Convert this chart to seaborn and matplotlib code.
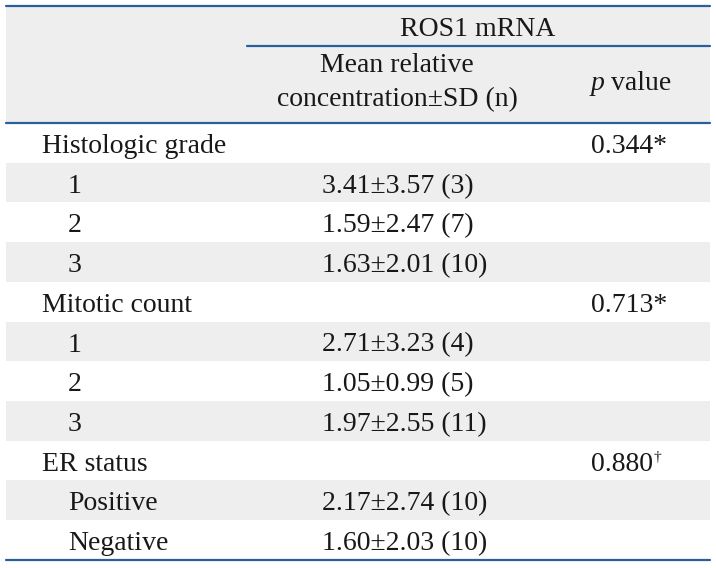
import numpy as np
import pandas as pd
import seaborn as sns
import matplotlib.pyplot as plt

# ---------- data ----------
row_labels = ["Histologic grade", "1", "2", "3",
              "Mitotic count", "1", "2", "3",
              "ER status", "Positive", "Negative"]
is_group = [True, False, False, False,
            True, False, False, False,
            True, False, False]
means = [None, 3.41, 1.59, 1.63, None, 2.71, 1.05, 1.97, None, 2.17, 1.60]
sds = [None, 3.57, 2.47, 2.01, None, 3.23, 0.99, 2.55, None, 2.74, 2.03]
counts = [None, 3, 7, 10, None, 4, 5, 11, None, 10, 10]
p_values = ["0.344", None, None, None, "0.713", None, None, None, "0.880", None, None]
p_marks = ["*", None, None, None, "*", None, None, None, "\u2020", None, None]

header_top = "ROS1 mRNA"
header_col1 = ["Mean relative", "concentration\u00b1SD (n)"]

df = pd.DataFrame({"label": row_labels, "group": is_group, "mean": means,
                   "sd": sds, "n": counts, "p": p_values, "mark": p_marks})

# ---------- style ----------
sns.set_theme(style="white")
plt.rcParams['font.family'] = ['Liberation Serif', 'DejaVu Serif']

W, H = 716, 568
fig = plt.figure(figsize=(W / 100, H / 100), dpi=100)
ax = fig.add_axes([0, 0, 1, 1])
ax.set_xlim(0, W)
ax.set_ylim(H, 0)
ax.axis("off")

line_col = "#2a5f9e"
band_col = "#eeeeee"
txt_col = "#1a1718"
fs = 20

x0, x1 = 6, 710
top_y, head_y = 5.5, 123
row_h = 39.7

# header background + rules
ax.fill_between([x0, x1], top_y, head_y, color=band_col, lw=0)
ax.plot([x0, x1], [top_y, top_y], color=line_col, lw=1.6)
ax.plot([247, x1], [45.5, 45.5], color=line_col, lw=1.6)
ax.plot([x0, x1], [head_y, head_y], color=line_col, lw=1.6)

ax.text(478, 29, header_top, ha="center", va="center", fontsize=fs, color=txt_col)
ax.text(397, 66, header_col1[0], ha="center", va="center", fontsize=fs, color=txt_col)
ax.text(397, 100, header_col1[1], ha="center", va="center", fontsize=fs, color=txt_col)
ax.text(591, 84, "p", ha="left", va="center", fontsize=fs, color=txt_col, style="italic")
ax.text(611, 84, "value", ha="left", va="center", fontsize=fs, color=txt_col)

# body rows
for i, row in df.iterrows():
    top = head_y + i * row_h
    if i % 2 == 1:
        ax.fill_between([x0, x1], top, top + row_h, color=band_col, lw=0)
    base = top + 30
    lx = 42 if row["group"] else 68
    ax.text(lx, base, row["label"], ha="left", va="baseline", fontsize=fs, color=txt_col)
    if row["mean"] is not None and not pd.isna(row["mean"]):
        val = f"{row['mean']:.2f}\u00b1{row['sd']:.2f} ({int(row['n'])})"
        ax.text(322, base, val, ha="left", va="baseline", fontsize=fs, color=txt_col)
    if row["p"] is not None:
        if row["mark"] == "*":
            ax.text(591, base, row["p"] + "*", ha="left", va="baseline",
                    fontsize=fs, color=txt_col)
        else:
            ax.text(591, base, row["p"], ha="left", va="baseline",
                    fontsize=fs, color=txt_col)
            ax.text(653, base - 10, row["mark"], ha="left", va="baseline",
                    fontsize=11, color=txt_col)

bottom_y = head_y + len(df) * row_h
ax.plot([x0, x1], [bottom_y, bottom_y], color=line_col, lw=1.6)

fig.savefig("out.png", dpi=100, facecolor="white")
